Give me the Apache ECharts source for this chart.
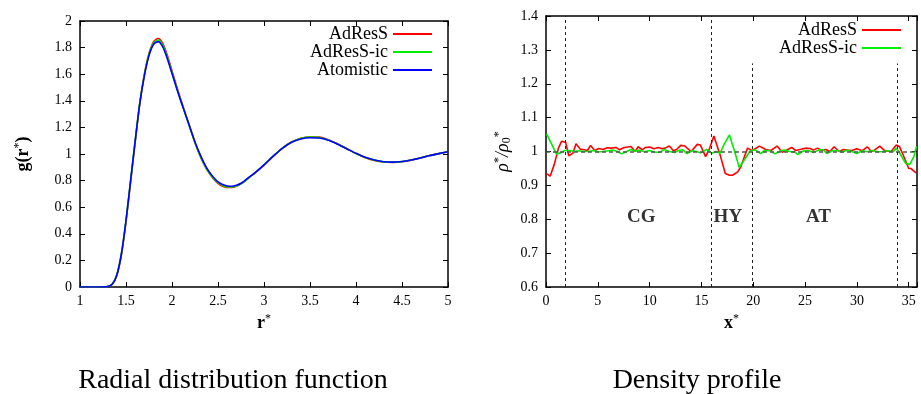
<!DOCTYPE html>
<html><head><meta charset="utf-8">
<script src="https://cdn.jsdelivr.net/npm/echarts@6/dist/echarts.min.js"></script>
<style>html,body{margin:0;padding:0;background:#fff}#c{width:921px;height:394px}</style>
</head><body><div id="c"></div>
<script>
// ---------- Left panel: radial distribution function ----------
const rValues = [1.0,1.1,1.2,1.3,1.35,1.4,1.45,1.5,1.55,1.6,1.65,1.7,1.75,1.8,1.85,1.9,1.95,2.0,2.05,2.1,2.15,2.2,2.25,2.3,2.35,2.4,2.45,2.5,2.55,2.6,2.65,2.7,2.75,2.8,2.85,2.9,2.95,3.0,3.1,3.2,3.3,3.4,3.5,3.6,3.7,3.8,3.9,4.0,4.1,4.2,4.3,4.4,4.5,4.6,4.7,4.8,4.9,5.0];
const gAdResS = [0,0,0,0.003,0.02,0.085,0.24,0.49,0.79,1.09,1.38,1.6,1.755,1.845,1.868,1.83,1.74,1.625,1.51,1.40,1.295,1.19,1.085,0.995,0.92,0.86,0.815,0.78,0.758,0.748,0.748,0.757,0.775,0.80,0.83,0.855,0.885,0.915,0.982,1.045,1.09,1.118,1.13,1.128,1.108,1.077,1.04,1.003,0.972,0.952,0.94,0.937,0.942,0.954,0.97,0.988,1.003,1.018];
const gAdResSic = [0,0,0,0.003,0.02,0.09,0.25,0.50,0.80,1.10,1.385,1.595,1.75,1.835,1.857,1.817,1.727,1.612,1.5,1.393,1.29,1.187,1.085,0.997,0.922,0.863,0.818,0.784,0.763,0.753,0.752,0.76,0.776,0.80,0.83,0.857,0.887,0.917,0.985,1.045,1.09,1.117,1.127,1.124,1.105,1.075,1.04,1.004,0.974,0.954,0.941,0.938,0.943,0.955,0.97,0.988,1.003,1.017];
const gAtomistic = [0,0,0,0.003,0.02,0.09,0.25,0.50,0.80,1.10,1.38,1.59,1.74,1.825,1.845,1.805,1.715,1.605,1.495,1.39,1.29,1.19,1.09,1.005,0.93,0.87,0.825,0.79,0.77,0.76,0.758,0.765,0.78,0.805,0.832,0.858,0.888,0.918,0.984,1.043,1.088,1.113,1.122,1.12,1.103,1.074,1.04,1.005,0.975,0.955,0.942,0.939,0.944,0.955,0.97,0.988,1.003,1.017];

// ---------- Right panel: density profile ----------
const densAdResS = [[0.05,0.935],[0.4,0.927],[0.8,0.962],[1.2,1.01],[1.5,1.03],[1.9,1.027],[2.2,0.987],[2.6,0.995],[2.9,1.023],[3.3,1.007],[3.7,1.005],[4.0,1.003],[4.3,1.018],[4.7,1.003],[5.1,1.009],[5.5,1.006],[5.9,1.011],[6.3,1.01],[6.75,1.012],[7.1,1.005],[7.55,1.012],[8.2,1.015],[8.6,1.0],[8.9,1.014],[9.3,1.005],[9.6,1.012],[10.0,1.013],[10.4,1.008],[10.85,1.012],[11.2,1.008],[11.5,1.01],[11.9,1.016],[12.3,1.002],[12.6,1.006],[13.0,1.018],[13.4,1.016],[14.0,1.0],[14.6,1.021],[14.9,1.019],[15.4,0.985],[15.8,1.01],[16.2,1.046],[16.8,0.99],[17.3,0.935],[17.7,0.93],[18.0,0.93],[18.5,0.94],[18.8,0.955],[19.45,1.01],[19.9,1.003],[20.6,1.016],[21.2,1.006],[21.7,1.003],[22.3,1.016],[22.8,0.998],[23.2,1.004],[23.7,1.012],[24.1,1.003],[24.5,1.006],[25.1,1.01],[25.5,1.009],[25.8,1.004],[26.2,1.01],[26.6,1.003],[27.0,1.006],[27.4,1.0],[27.8,1.014],[28.3,1.0],[28.7,1.006],[29.1,1.004],[29.5,1.003],[30.0,1.008],[30.5,1.002],[31.0,1.014],[31.4,1.0],[31.7,1.004],[32.2,1.016],[32.7,1.002],[33.3,1.0],[33.8,1.019],[34.1,1.015],[34.6,0.98],[35.0,0.95],[35.2,0.95],[35.7,0.937]];
const densAdResSic = [[0.05,1.052],[0.5,1.025],[1.0,0.993],[1.4,0.996],[1.8,1.003],[2.3,1.003],[2.7,1.0],[3.2,1.002],[3.6,1.0],[4.1,1.0],[4.6,1.003],[5.0,0.999],[5.5,1.0],[6.0,1.002],[6.5,1.004],[6.9,1.0],[7.3,0.993],[7.8,1.0],[8.2,1.006],[8.6,1.001],[9.0,1.004],[9.5,0.999],[10.0,1.003],[10.5,0.998],[11.0,0.998],[11.4,1.006],[11.9,1.0],[12.4,0.997],[12.8,1.003],[13.2,1.005],[13.6,0.994],[14.1,1.002],[14.5,1.0],[14.9,0.996],[15.5,1.006],[16.0,0.995],[16.4,1.0],[16.8,0.995],[17.2,1.022],[17.7,1.049],[18.2,1.0],[18.65,0.953],[19.2,0.978],[19.7,1.002],[20.2,1.005],[20.7,0.994],[21.1,1.003],[21.6,1.002],[22.1,0.993],[22.6,1.002],[23.0,1.004],[23.5,1.0],[24.0,0.999],[24.3,0.991],[24.8,1.001],[25.3,1.003],[25.8,0.997],[26.3,1.004],[26.7,1.006],[27.1,0.994],[27.6,1.002],[28.1,1.003],[28.6,0.998],[29.0,1.004],[29.5,1.0],[30.0,0.994],[30.5,1.002],[31.0,0.999],[31.5,1.003],[32.0,0.999],[32.5,1.0],[33.0,1.002],[33.5,0.999],[33.8,1.01],[34.1,0.997],[34.7,0.965],[35.1,0.962],[35.5,0.985],[35.75,1.015]];
const regionBounds = [[1.9,0.6,1.4],[15.9,0.6,1.4],[19.9,0.6,1.26],[33.9,0.6,1.26]];
const regionLabels = [[9.2,0.805,'CG'],[17.55,0.805,'HY'],[26.3,0.805,'AT']];
const referenceDensity = 1.0;

const FONT = 'Liberation Serif';
const axisCommon = {
  type: 'value',
  axisLine: {show: true, onZero: false, lineStyle: {color: '#000', width: 1.5}},
  axisTick: {show: true, inside: true, length: 5, lineStyle: {color: '#000', width: 1}},
  axisLabel: {color: '#000', fontFamily: FONT, fontSize: 14},
  splitLine: {show: false}
};
function ax(extra) { return Object.assign({}, JSON.parse(JSON.stringify(axisCommon)), extra); }
const mirrorLabel = {show: false};
const richBase = {
  b: {fontFamily: FONT, fontSize: 18, fontWeight: 'bold', color: '#000'},
  i: {fontFamily: FONT, fontSize: 18, fontStyle: 'italic', color: '#000'},
  sup: {fontFamily: FONT, fontSize: 12, color: '#000', padding: [0, 0, 9, 0]},
  sub: {fontFamily: FONT, fontSize: 12, color: '#000', padding: [7, 0, 0, 0]}
};

const chart = echarts.init(document.getElementById('c'), null, {renderer: 'canvas'});
const lineW = 1.6;
chart.setOption({
  animation: false,
  backgroundColor: '#fff',
  grid: [
    {left: 80, right: 473, top: 21, bottom: 107},
    {left: 546, right: 4, top: 16, bottom: 107}
  ],
  xAxis: [
    ax({gridIndex: 0, min: 1, max: 5, interval: 0.5, axisLabel: {color: '#000', fontFamily: FONT, fontSize: 14, margin: 7},
        name: '{b|r}{sup|*}', nameLocation: 'middle', nameGap: 24, nameTextStyle: {rich: richBase}}),
    ax({gridIndex: 0, min: 1, max: 5, interval: 0.5, position: 'top', axisLabel: mirrorLabel}),
    ax({gridIndex: 1, min: 0, max: 35.8, interval: 5, axisLabel: {color: '#000', fontFamily: FONT, fontSize: 14, margin: 7, formatter: v => (Math.abs(v % 5) < 1e-9 ? String(v) : '')},
        name: '{b|x}{sup|*}', nameLocation: 'middle', nameGap: 24, nameTextStyle: {rich: richBase}}),
    ax({gridIndex: 1, min: 0, max: 35.8, interval: 5, position: 'top', axisLabel: mirrorLabel})
  ],
  yAxis: [
    ax({gridIndex: 0, min: 0, max: 2, interval: 0.2, axisLabel: {color: '#000', fontFamily: FONT, fontSize: 14, margin: 8},
        name: '{b|g(r}{sup|*}{b|)}', nameLocation: 'middle', nameRotate: 90, nameGap: 46, nameTextStyle: {rich: richBase}}),
    ax({gridIndex: 0, min: 0, max: 2, interval: 0.2, position: 'right', axisLabel: mirrorLabel}),
    ax({gridIndex: 1, min: 0.6, max: 1.4, interval: 0.1, axisLabel: {color: '#000', fontFamily: FONT, fontSize: 14, margin: 8},
        name: '{i|ρ}{sup|*}{i|/ρ}{sub|0}{sup|*}', nameLocation: 'middle', nameRotate: 90, nameGap: 32, nameTextStyle: {rich: richBase}}),
    ax({gridIndex: 1, min: 0.6, max: 1.4, interval: 0.1, position: 'right', axisLabel: mirrorLabel})
  ],
  legend: [
    {orient: 'vertical', align: 'right', right: 489, top: 25, padding: 0, itemGap: 0, itemWidth: 39, itemHeight: 2, icon: 'rect',
     selectedMode: false, textStyle: {fontFamily: FONT, fontSize: 18, color: '#000'}, data: ['AdResS', 'AdResS-ic', 'Atomistic']},
    {orient: 'vertical', align: 'right', right: 20, top: 21, padding: 0, itemGap: 0, itemWidth: 39, itemHeight: 2, icon: 'rect',
     selectedMode: false, textStyle: {fontFamily: FONT, fontSize: 18, color: '#000'}, data: ['AdResS', 'AdResS-ic']}
  ],
  series: [
    {name: 'AdResS', type: 'line', xAxisIndex: 0, yAxisIndex: 0, showSymbol: false, symbol: 'none', smooth: 0.25,
     color: '#ff0000', lineStyle: {width: lineW, color: '#ff0000'}, data: rValues.map((r, i) => [r, gAdResS[i]])},
    {name: 'AdResS-ic', type: 'line', xAxisIndex: 0, yAxisIndex: 0, showSymbol: false, symbol: 'none', smooth: 0.25,
     color: '#00ee00', lineStyle: {width: lineW, color: '#00ee00'}, data: rValues.map((r, i) => [r, gAdResSic[i]])},
    {name: 'Atomistic', type: 'line', xAxisIndex: 0, yAxisIndex: 0, showSymbol: false, symbol: 'none', smooth: 0.25,
     color: '#0000ff', lineStyle: {width: lineW, color: '#0000ff'}, data: rValues.map((r, i) => [r, gAtomistic[i]])},
    {name: 'guides', type: 'line', xAxisIndex: 2, yAxisIndex: 2, data: [], silent: true, z: 1,
     markLine: {silent: true, symbol: ['none', 'none'], label: {show: false}, animation: false,
       data: [
         {yAxis: referenceDensity, lineStyle: {color: '#555', type: [4, 3], width: 1.5}},
         ...regionBounds.map(b => [{coord: [b[0], b[1]], lineStyle: {color: '#222', type: [3, 3], width: 1}}, {coord: [b[0], b[2]]}])
       ]}},
    {name: 'AdResS', type: 'line', xAxisIndex: 2, yAxisIndex: 2, showSymbol: false, symbol: 'none', z: 3,
     color: '#ff0000', lineStyle: {width: lineW, color: '#ff0000'}, data: densAdResS},
    {name: 'AdResS-ic', type: 'line', xAxisIndex: 2, yAxisIndex: 2, showSymbol: false, symbol: 'none', z: 3,
     color: '#00ee00', lineStyle: {width: lineW, color: '#00ee00'}, data: densAdResSic},
    {name: 'regions', type: 'scatter', xAxisIndex: 2, yAxisIndex: 2, symbolSize: 0, silent: true,
     label: {show: true, position: 'inside', formatter: p => p.value[2], fontFamily: FONT, fontSize: 19, fontWeight: 'bold', color: '#000'},
     data: regionLabels}
  ],
  graphic: [
    {type: 'text', x: 233, y: 381, style: {text: 'Radial distribution function', fontFamily: FONT, fontSize: 28, fill: '#000', align: 'center', verticalAlign: 'middle'}},
    {type: 'text', x: 697, y: 381, style: {text: 'Density profile', fontFamily: FONT, fontSize: 28, fill: '#000', align: 'center', verticalAlign: 'middle'}}
  ]
});
</script></body></html>
